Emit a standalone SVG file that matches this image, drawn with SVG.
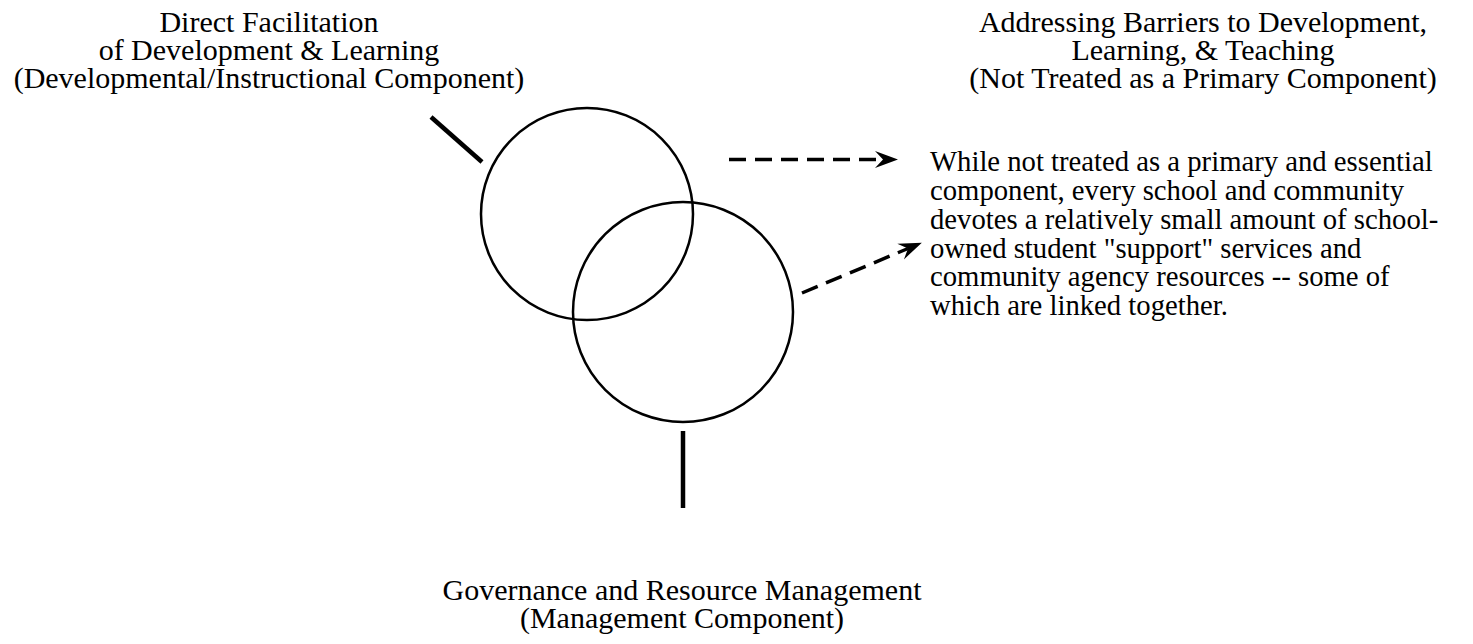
<svg xmlns="http://www.w3.org/2000/svg" width="1473" height="644" viewBox="0 0 1473 644">
<style>
text{font-family:"Liberation Serif","Times New Roman",serif;fill:#000}
.h{font-size:30px;text-anchor:middle}
.b{font-size:28.7px}
.c{fill:none;stroke:#000;stroke-width:2.5}
.s{stroke:#000;stroke-width:4.5;fill:none}
.d{stroke:#000;stroke-width:3.5;fill:none;stroke-dasharray:17 9}
</style>
<defs>
<marker id="ah" markerUnits="userSpaceOnUse" viewBox="-23 -9 24 18" refX="-15" refY="0" markerWidth="24" markerHeight="18" orient="auto">
<path d="M0,0 L-23,-8.5 L-15,0 L-23,8.5 Z" fill="#000"/>
</marker>
</defs>
<rect width="1473" height="644" fill="#fff"/>
<g id="node-instructional">
<text class="h" x="269" y="32">Direct Facilitation</text>
<text class="h" x="269" y="60">of Development &amp; Learning</text>
<text class="h" x="269" y="88">(Developmental/Instructional Component)</text>
<circle class="c" cx="587" cy="214" r="106"/>
</g>
<g id="node-management">
<circle class="c" cx="683" cy="312" r="110"/>
<text class="h" x="682" y="600">Governance and Resource Management</text>
<text class="h" x="682" y="628">(Management Component)</text>
</g>
<g id="node-barriers">
<text class="h" x="1203" y="32">Addressing Barriers to Development,</text>
<text class="h" x="1203" y="60">Learning, &amp; Teaching</text>
<text class="h" x="1203" y="88">(Not Treated as a Primary Component)</text>
<text class="b" x="930" y="171">While not treated as a primary and essential</text>
<text class="b" x="930" y="200">component, every school and community</text>
<text class="b" x="930" y="229">devotes a relatively small amount of school-</text>
<text class="b" x="930" y="258">owned student "support" services and</text>
<text class="b" x="930" y="286">community agency resources -- some of</text>
<text class="b" x="930" y="315">which are linked together.</text>
</g>
<g id="connectors">
<line class="s" x1="431" y1="117" x2="482" y2="162"/>
<line class="s" x1="683" y1="431" x2="683" y2="508"/>
<line class="d" x1="729" y1="159.5" x2="883" y2="159.5" marker-end="url(#ah)"/>
<line class="d" x1="802" y1="293" x2="908" y2="248.5" marker-end="url(#ah)"/>
</g>
</svg>
